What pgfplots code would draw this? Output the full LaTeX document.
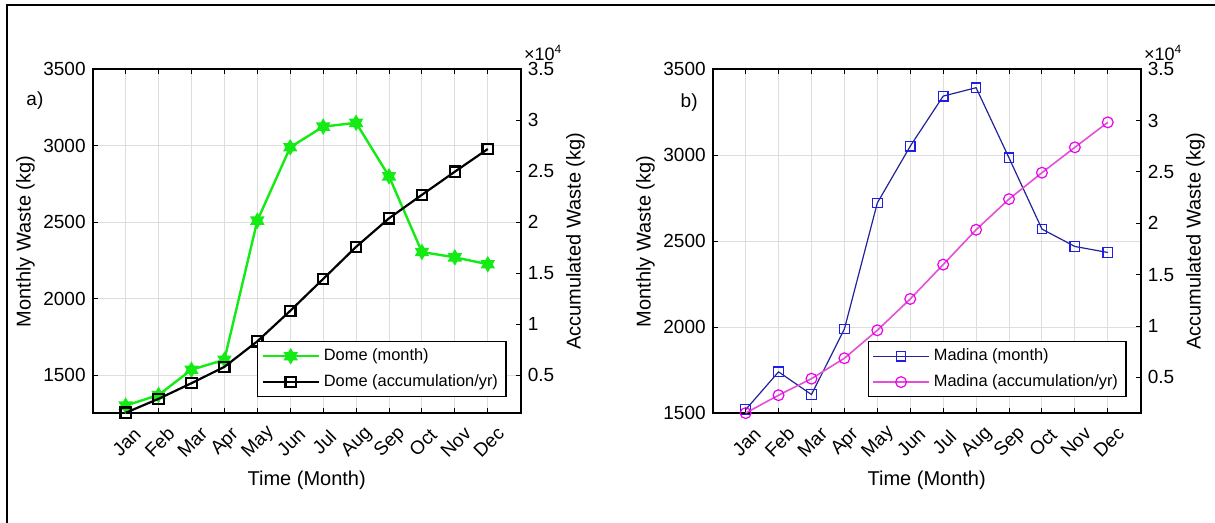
\documentclass[border=0pt]{standalone}
\usepackage{fontspec}
\setmainfont{Liberation Sans}
\usepackage{pgfplots}
\pgfplotsset{compat=1.18}

% filled six-pointed star, like MATLAB's hexagram marker
\pgfdeclareplotmark{hexagram*}{%
  \pgfpathmoveto{\pgfpointpolar{90}{\pgfplotmarksize}}%
  \pgfpathlineto{\pgfpointpolar{120}{0.577\pgfplotmarksize}}%
  \pgfpathlineto{\pgfpointpolar{150}{\pgfplotmarksize}}%
  \pgfpathlineto{\pgfpointpolar{180}{0.577\pgfplotmarksize}}%
  \pgfpathlineto{\pgfpointpolar{210}{\pgfplotmarksize}}%
  \pgfpathlineto{\pgfpointpolar{240}{0.577\pgfplotmarksize}}%
  \pgfpathlineto{\pgfpointpolar{270}{\pgfplotmarksize}}%
  \pgfpathlineto{\pgfpointpolar{300}{0.577\pgfplotmarksize}}%
  \pgfpathlineto{\pgfpointpolar{330}{\pgfplotmarksize}}%
  \pgfpathlineto{\pgfpointpolar{0}{0.577\pgfplotmarksize}}%
  \pgfpathlineto{\pgfpointpolar{30}{\pgfplotmarksize}}%
  \pgfpathlineto{\pgfpointpolar{60}{0.577\pgfplotmarksize}}%
  \pgfpathclose
  \pgfusepathqfillstroke}

\definecolor{mgreen}{RGB}{20,235,20}
\definecolor{mnavy}{RGB}{35,35,150}
\definecolor{mblue}{RGB}{30,30,230}
\definecolor{mpinkline}{RGB}{225,80,215}
\definecolor{mmag}{RGB}{235,0,235}

\pgfplotsset{
  panel/.style={
    scale only axis, width=214pt, height=172pt,
    xmin=0, xmax=13, xtick={1,...,12},
    xticklabels={Jan,Feb,Mar,Apr,May,Jun,Jul,Aug,Sep,Oct,Nov,Dec},
    xticklabel style={yshift=-14.5pt, xshift=0.5pt, rotate=45, anchor=center},
    tick align=inside, major tick length=2.5pt,
    tick style={black, line width=0.5pt},
    axis line style={line width=0.9pt},
    ticklabel style={font=\fontsize{9.5}{10}\selectfont},
    label style={font=\fontsize{10}{11}\selectfont},
    /pgf/number format/assume math mode=true,
    /pgf/number format/1000 sep={},
    clip=false,
  },
  leftpart/.style={panel, ytick pos=left,
    grid=major, grid style={black!13, line width=0.5pt},
    xlabel={Time (Month)}, ylabel={Monthly Waste (kg)},
    xlabel style={at={(axis description cs:0.5,-0.195)}, anchor=center},
    ylabel style={at={(axis description cs:-0.157,0.5)}, anchor=center},
  },
  rightpart/.style={panel, axis x line=none, axis y line*=right,
    ymax=35000, ytick={5000,10000,...,35000},
    yticklabels={0.5,1,1.5,2,2.5,3,3.5},
    scaled y ticks=false,
    ylabel={Accumulated Waste (kg)},
    ylabel style={at={(axis description cs:1.128,0.5)}, anchor=center},
    legend cell align=left,
    legend image code/.code={\draw[mark repeat=2, mark phase=2, #1] plot coordinates {(0pt,0pt) (14pt,0pt) (28pt,0pt)};},
    legend style={anchor=south east, draw=black, line width=0.6pt, fill=white,
      font=\fontsize{8.2}{9}\selectfont, inner xsep=2pt, inner ysep=1.5pt,
      row sep=1.5pt},
  },
}

\begin{document}
\begin{tikzpicture}
\useasboundingbox (0,0) rectangle (607.5pt,-261.5pt);
\draw[line width=1pt] (3.5pt,-261.5pt) -- (3.5pt,-2.5pt) -- (607.5pt,-2.5pt);

% ---- panel a: Dome
\begin{axis}[leftpart, at={(46.35pt,-206.65pt)}, anchor=south west,
  ymin=1250, ymax=3500, ytick={1500,2000,...,3500}]
\addplot[mgreen, line width=1.2pt, mark=hexagram*, mark size=3pt, mark options={fill=mgreen}]
  coordinates {(1,1300) (2,1370) (3,1535) (4,1600) (5,2510) (6,2990)
               (7,3125) (8,3150) (9,2800) (10,2305) (11,2270) (12,2225)};
\node at (rel axis cs:-0.135,0.908) {\fontsize{9.5}{10}\selectfont a)};
\end{axis}
\begin{axis}[rightpart, at={(46.35pt,-206.65pt)}, anchor=south west,
  ymin=1250, legend style={at={(0.967,0.047)}}]
\addlegendimage{mgreen, line width=1.2pt, mark=hexagram*, mark size=3pt, mark options={fill=mgreen}}
\addlegendentry{Dome (month)}
\addplot[black, line width=1.1pt, mark=square, mark size=2.6pt]
  coordinates {(1,1300) (2,2670) (3,4205) (4,5805) (5,8315) (6,11305)
               (7,14430) (8,17580) (9,20380) (10,22685) (11,24955) (12,27180)};
\addlegendentry{Dome (accumulation/yr)}
\node[anchor=south west, inner sep=0pt, xshift=1.5pt, yshift=4pt] at (rel axis cs:1,1)
  {\fontsize{9}{10}\selectfont ×10\textsuperscript{4}};
\end{axis}

% ---- panel b: Madina
\begin{axis}[leftpart, at={(356.35pt,-206.65pt)}, anchor=south west,
  ymin=1500, ymax=3500, ytick={1500,2000,...,3500}]
\addplot[mnavy, line width=0.6pt, mark=square, mark size=2.4pt, mark options={mblue, line width=0.6pt}]
  coordinates {(1,1521) (2,1741) (3,1609) (4,1990) (5,2723) (6,3053)
               (7,3344) (8,3393) (9,2985) (10,2571) (11,2470) (12,2435)};
\node at (rel axis cs:-0.055,0.902) {\fontsize{9.5}{10}\selectfont b)};
\end{axis}
\begin{axis}[rightpart, at={(356.35pt,-206.65pt)}, anchor=south west,
  ymin=1500, legend style={at={(0.967,0.047)}}]
\addlegendimage{mnavy, line width=0.6pt, mark=square, mark size=2.4pt, mark options={mblue, line width=0.6pt}}
\addlegendentry{Madina (month)}
\addplot[mpinkline, line width=0.8pt, mark=o, mark size=2.7pt, mark options={mmag, line width=0.6pt}]
  coordinates {(1,1521) (2,3262) (3,4871) (4,6861) (5,9584) (6,12637)
               (7,15981) (8,19374) (9,22359) (10,24930) (11,27400) (12,29835)};
\addlegendentry{Madina (accumulation/yr)}
\node[anchor=south west, inner sep=0pt, xshift=1.5pt, yshift=4pt] at (rel axis cs:1,1)
  {\fontsize{9}{10}\selectfont ×10\textsuperscript{4}};
\end{axis}
\end{tikzpicture}
\end{document}
